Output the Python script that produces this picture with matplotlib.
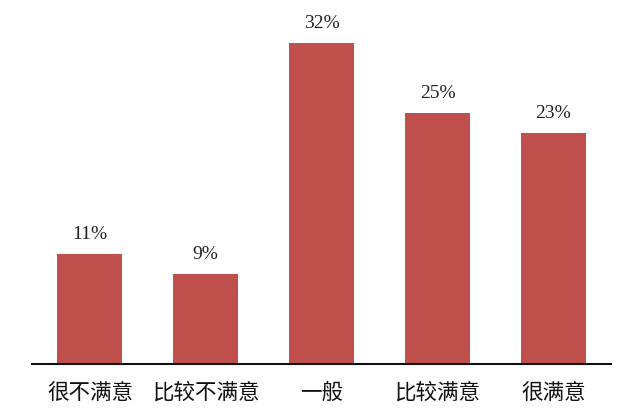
import matplotlib
matplotlib.use("Agg")
import matplotlib.pyplot as plt

categories = ["很不满意", "比较不满意", "一般", "比较满意", "很满意"]
values = [11, 9, 32, 25, 23]
labels = ["11%", "9%", "32%", "25%", "23%"]

plt.rcParams['font.family'] = ['Noto Sans CJK SC', 'DejaVu Sans']

fig = plt.figure(figsize=(6.4, 4.16), dpi=100)
ax = fig.add_axes([0.05, 0.125, 0.905, 0.875])
x = list(range(len(categories)))
bars = ax.bar(x, values, width=0.56, color="#C0504D")
ax.set_xlim(-0.5, 4.5)
ax.set_ylim(0, 36.3)
for xi, v, lab in zip(x, values, labels):
    ax.annotate(lab, (xi, v), xytext=(0, 8), textcoords="offset points",
                ha="center", va="bottom", fontsize=14,
                family=["Liberation Serif", "DejaVu Serif"], color="#222222")
ax.set_xticks(x)
ax.set_xticklabels(categories, fontsize=15.5, color="#111111")
ax.tick_params(axis="x", length=0, pad=13)
ax.set_yticks([])
for s in ["top", "right", "left"]:
    ax.spines[s].set_visible(False)
ax.spines["bottom"].set_linewidth(1.5)
ax.spines["bottom"].set_color("#111111")
fig.savefig("out.png", dpi=100)
